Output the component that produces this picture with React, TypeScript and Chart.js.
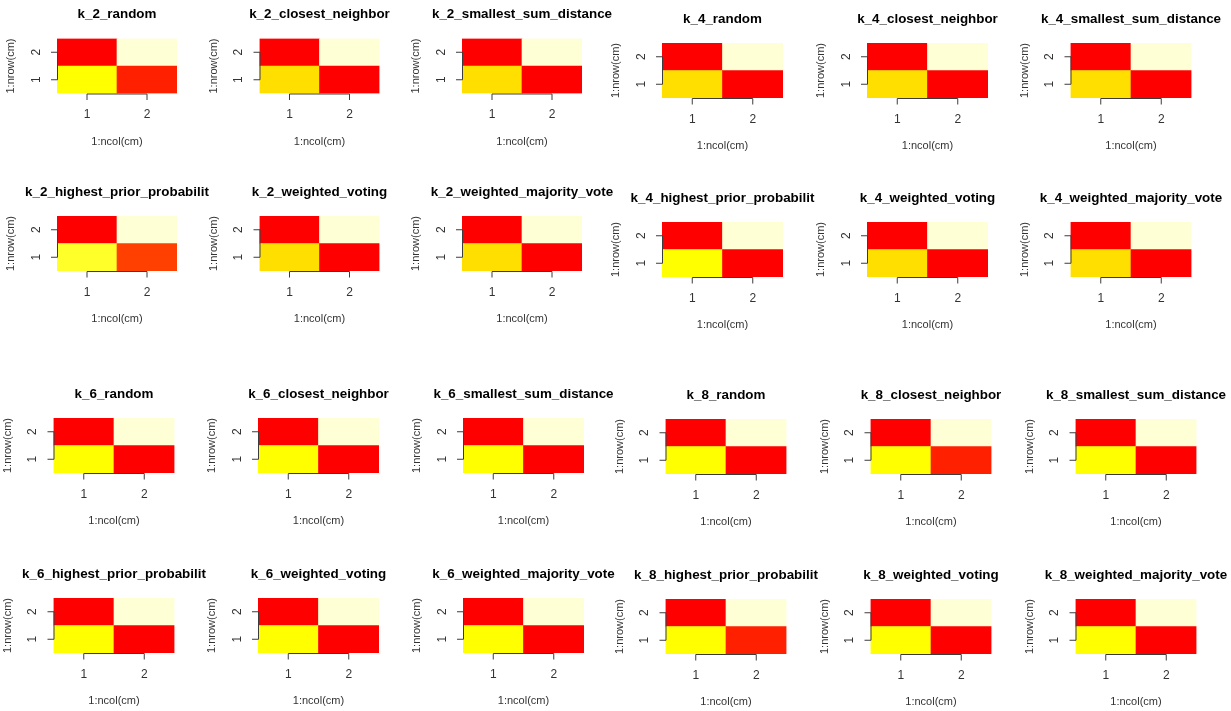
import React, { useEffect, useRef } from 'react';
import { Chart, registerables } from 'chart.js';

Chart.register(...registerables);

// ---------- data ----------
const panelTitles = [
  'k_2_random', 'k_2_closest_neighbor', 'k_2_smallest_sum_distance',
  'k_4_random', 'k_4_closest_neighbor', 'k_4_smallest_sum_distance',
  'k_2_highest_prior_probabilit', 'k_2_weighted_voting', 'k_2_weighted_majority_vote',
  'k_4_highest_prior_probabilit', 'k_4_weighted_voting', 'k_4_weighted_majority_vote',
  'k_6_random', 'k_6_closest_neighbor', 'k_6_smallest_sum_distance',
  'k_8_random', 'k_8_closest_neighbor', 'k_8_smallest_sum_distance',
  'k_6_highest_prior_probabilit', 'k_6_weighted_voting', 'k_6_weighted_majority_vote',
  'k_8_highest_prior_probabilit', 'k_8_weighted_voting', 'k_8_weighted_majority_vote',
];

const xTickLabels = ['1', '2'];
const yTickLabels = ['1', '2'];
const xAxisTitle = '1:ncol(cm)';
const yAxisTitle = '1:nrow(cm)';

// normalised cell values (row 1 = bottom, row 2 = top)
const cellRow1Col1 = [
  0.71, 0.62, 0.62, 0.62, 0.62, 0.62,
  0.79, 0.62, 0.62, 0.71, 0.62, 0.62,
  0.71, 0.71, 0.71, 0.71, 0.71, 0.71,
  0.71, 0.71, 0.71, 0.71, 0.71, 0.71,
];
const cellRow1Col2 = [
  0.12, 0.03, 0.03, 0.03, 0.03, 0.03,
  0.20, 0.03, 0.03, 0.03, 0.03, 0.03,
  0.03, 0.03, 0.03, 0.03, 0.12, 0.03,
  0.03, 0.03, 0.03, 0.12, 0.03, 0.03,
];
const cellRow2Col1 = [
  0, 0, 0, 0, 0, 0,
  0, 0, 0, 0, 0, 0,
  0, 0, 0, 0, 0, 0,
  0, 0, 0, 0, 0, 0,
];
const cellRow2Col2 = [
  1, 1, 1, 1, 1, 1,
  1, 1, 1, 1, 1, 1,
  1, 1, 1, 1, 1, 1,
  1, 1, 1, 1, 1, 1,
];

// ---------- styles / layout ----------
const heatColors = [
  '#FF0000', '#FF2000', '#FF4000', '#FF6000', '#FF8000', '#FF9F00',
  '#FFBF00', '#FFDF00', '#FFFF00', '#FFFF2A', '#FFFF80', '#FFFFD5',
];

const topColLefts = [57, 259.5, 462, 662, 867, 1070.5];
const topColWidths = [120, 120, 120, 121, 121, 121];
const bottomColLefts = [53.5, 258, 463, 665.5, 870.5, 1075.5];
const bottomColWidths = [121, 121, 121, 121, 121, 121];
const rowTopsLeft = [38.5, 216, 418, 598];
const rowTopsRight = [43, 222, 419, 599];
const plotHeight = 55;

const CAN_LEFT = 64;
const CAN_TOP = 38;
const CAN_W = 240;
const CAN_H = 162;

const FONT = "'Liberation Sans', Arial, Helvetica, sans-serif";

function geometry(idx: number) {
  const row = Math.floor(idx / 6);
  const col = idx % 6;
  const left = row < 2 ? topColLefts[col] : bottomColLefts[col];
  const width = row < 2 ? topColWidths[col] : bottomColWidths[col];
  const top = col < 3 ? rowTopsLeft[row] : rowTopsRight[row];
  const cx = Math.floor(left) - CAN_LEFT;
  const cy = Math.floor(top) - CAN_TOP;
  return {
    cx,
    cy,
    padL: left - cx,
    padT: top - cy,
    padR: CAN_W - (left - cx) - width,
    padB: CAN_H - (top - cy) - plotHeight,
  };
}

const rAxesPlugin = {
  id: 'rAxes',
  afterDraw(chart: any, _args: any, opts: any) {
    const { ctx, chartArea } = chart;
    const xs = chart.scales.x;
    const ys = chart.scales.y;
    const { left, right, top, bottom } = chartArea;
    const cxm = (left + right) / 2;
    const cym = (top + bottom) / 2;
    ctx.save();
    ctx.strokeStyle = '#3c3c3c';
    ctx.lineWidth = 1;

    // x axis
    const x1 = xs.getPixelForValue(0);
    const x2 = xs.getPixelForValue(xTickLabels.length - 1);
    const yAx = bottom + 0.5;
    ctx.beginPath();
    ctx.moveTo(x1, yAx);
    ctx.lineTo(x2, yAx);
    xTickLabels.forEach((_l, i) => {
      const px = xs.getPixelForValue(i);
      ctx.moveTo(px, yAx);
      ctx.lineTo(px, yAx + 6);
    });
    // y axis
    const y1 = ys.getPixelForValue(1);
    const y2 = ys.getPixelForValue(yTickLabels.length);
    const xAx = left + 0.5;
    ctx.moveTo(xAx, y1);
    ctx.lineTo(xAx, y2);
    yTickLabels.forEach((_l, i) => {
      const py = ys.getPixelForValue(i + 1);
      ctx.moveTo(xAx, py);
      ctx.lineTo(xAx - 6.5, py);
    });
    ctx.stroke();

    // tick labels
    ctx.fillStyle = '#333';
    ctx.font = `12px ${FONT}`;
    ctx.textAlign = 'center';
    ctx.textBaseline = 'middle';
    xTickLabels.forEach((l, i) => {
      ctx.fillText(l, xs.getPixelForValue(i), bottom + 21.5);
    });
    yTickLabels.forEach((l, i) => {
      ctx.save();
      ctx.translate(left - 20.5, ys.getPixelForValue(i + 1));
      ctx.rotate(-Math.PI / 2);
      ctx.fillText(l, 0, 0);
      ctx.restore();
    });

    // axis titles
    ctx.font = `11px ${FONT}`;
    ctx.fillText(xAxisTitle, cxm, bottom + 48);
    ctx.save();
    ctx.translate(left - 46, cym);
    ctx.rotate(-Math.PI / 2);
    ctx.fillText(yAxisTitle, 0, 0);
    ctx.restore();

    // main title
    ctx.fillStyle = '#000';
    ctx.font = `bold 13.4px ${FONT}`;
    ctx.textBaseline = 'alphabetic';
    ctx.fillText(opts.title, cxm, top - 20.5);
    ctx.restore();
  },
};

function Panel({ idx }: { idx: number }) {
  const ref = useRef<HTMLCanvasElement | null>(null);
  const g = geometry(idx);

  useEffect(() => {
    if (!ref.current) return;
    const vals = [cellRow1Col1[idx], cellRow1Col2[idx], cellRow2Col1[idx], cellRow2Col2[idx]];
    const mn = Math.min(...vals);
    const mx = Math.max(...vals);
    const colorOf = (v: number) =>
      heatColors[Math.min(heatColors.length - 1, Math.floor(((v - mn) / (mx - mn)) * heatColors.length + 1e-9))];
    const rows = [
      [cellRow1Col1[idx], cellRow1Col2[idx]],
      [cellRow2Col1[idx], cellRow2Col2[idx]],
    ];
    const datasets = rows.map((rv, r) => ({
      label: 'row ' + yTickLabels[r],
      data: xTickLabels.map(() => [r + 0.5, r + 1.5]),
      backgroundColor: rv.map(colorOf),
      borderWidth: 0,
      grouped: false,
      barPercentage: 1,
      categoryPercentage: 1,
      borderSkipped: false,
    }));
    const chart = new Chart(ref.current, {
      type: 'bar',
      data: { labels: xTickLabels, datasets: datasets as any },
      options: {
        responsive: false,
        animation: false,
        layout: { padding: { left: g.padL, top: g.padT, right: g.padR, bottom: g.padB } },
        plugins: {
          legend: { display: false },
          tooltip: { enabled: false },
          title: { display: false },
          rAxes: { title: panelTitles[idx] },
        } as any,
        scales: {
          x: { type: 'category', offset: true, display: false },
          y: { type: 'linear', min: 0.5, max: 2.5, display: false },
        },
      },
      plugins: [rAxesPlugin],
    });
    return () => chart.destroy();
  }, [idx]);

  return (
    <canvas
      ref={ref}
      width={CAN_W}
      height={CAN_H}
      style={{ position: 'absolute', left: g.cx, top: g.cy, width: CAN_W, height: CAN_H }}
    />
  );
}

export default function App() {
  return (
    <div
      style={{
        position: 'absolute',
        left: 0,
        top: 0,
        width: 1231,
        height: 711,
        overflow: 'hidden',
        background: '#fff',
      }}
    >
      {panelTitles.map((_t, i) => (
        <Panel key={i} idx={i} />
      ))}
    </div>
  );
}
